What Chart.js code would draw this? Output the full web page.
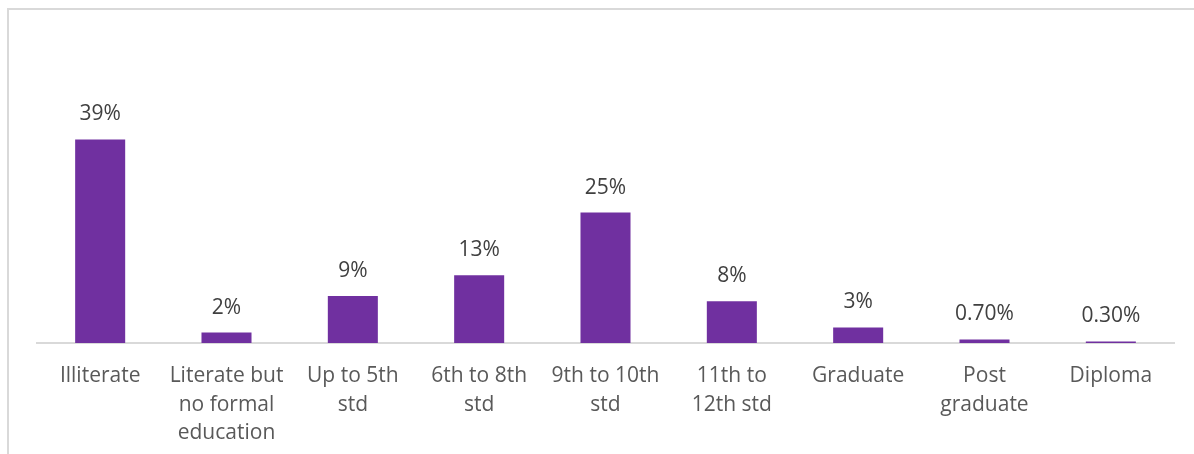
<!DOCTYPE html>
<html>
<head>
<meta charset="utf-8">
<script src="https://cdn.jsdelivr.net/npm/chart.js@4"></script>
<style>
  body { margin: 0; background: #fff; overflow: hidden; }
  #frame {
    position: absolute; left: 7px; top: 8px;
    width: 1200px; height: 480px;
    border: 2px solid #d9d9d9;
  }
  #wrap { position: absolute; left: 0; top: 0; width: 1194px; height: 476px; }
</style>
</head>
<body>
<div id="frame"></div>
<div id="wrap"><canvas id="eduChart"></canvas></div>
<script>
// education level of respondents (% share)
var levels = ["Illiterate", ["Literate but", "no formal", "education"], ["Up to 5th", "std"],
              ["6th to 8th", "std"], ["9th to 10th", "std"], ["11th to", "12th std"],
              "Graduate", ["Post", "graduate"], "Diploma"];
var shares = [39, 2, 9, 13, 25, 8, 3, 0.7, 0.3];

var fontFamily = "'Open Sans', sans-serif";

// percent labels on top of each bar
var valueLabels = {
    id: 'valueLabels',
    afterDatasetsDraw: function(chart) {
        var ctx = chart.ctx;
        var meta = chart.getDatasetMeta(0);
        ctx.save();
        ctx.font = '21px ' + fontFamily;
        ctx.fillStyle = '#404040';
        ctx.textAlign = 'center';
        ctx.textBaseline = 'middle';
        meta.data.forEach(function(bar, i) {
            var v = shares[i];
            var txt = (v < 1 ? v.toFixed(2) : v) + '%';
            ctx.fillText(txt, bar.x, bar.y - 25);
        });
        ctx.restore();
    }
};

var ctx = document.getElementById('eduChart').getContext('2d');
var myChart = new Chart(ctx, {
    type: 'bar',
    data: {
        labels: levels,
        datasets: [{
            label: "Education",
            data: shares,
            backgroundColor: '#7030a0',
            borderWidth: 0,
            categoryPercentage: 1,
            barPercentage: 0.396
        }]
    },
    options: {
        responsive: true,
        maintainAspectRatio: false,
        animation: false,
        layout: { padding: { left: 37, right: 20, top: 82, bottom: 10 } },
        plugins: {
            legend: { display: false },
            tooltip: { enabled: false }
        },
        scales: {
            x: {
                grid: { display: false, drawTicks: false },
                border: { display: true, color: '#d9d9d9', width: 2 },
                ticks: {
                    autoSkip: false,
                    maxRotation: 0,
                    padding: 18,
                    color: '#595959',
                    font: { family: fontFamily, size: 21, lineHeight: 1.38 }
                }
            },
            y: {
                display: false,
                min: 0,
                max: 50
            }
        }
    },
    plugins: [valueLabels]
});
</script>
</body>
</html>
